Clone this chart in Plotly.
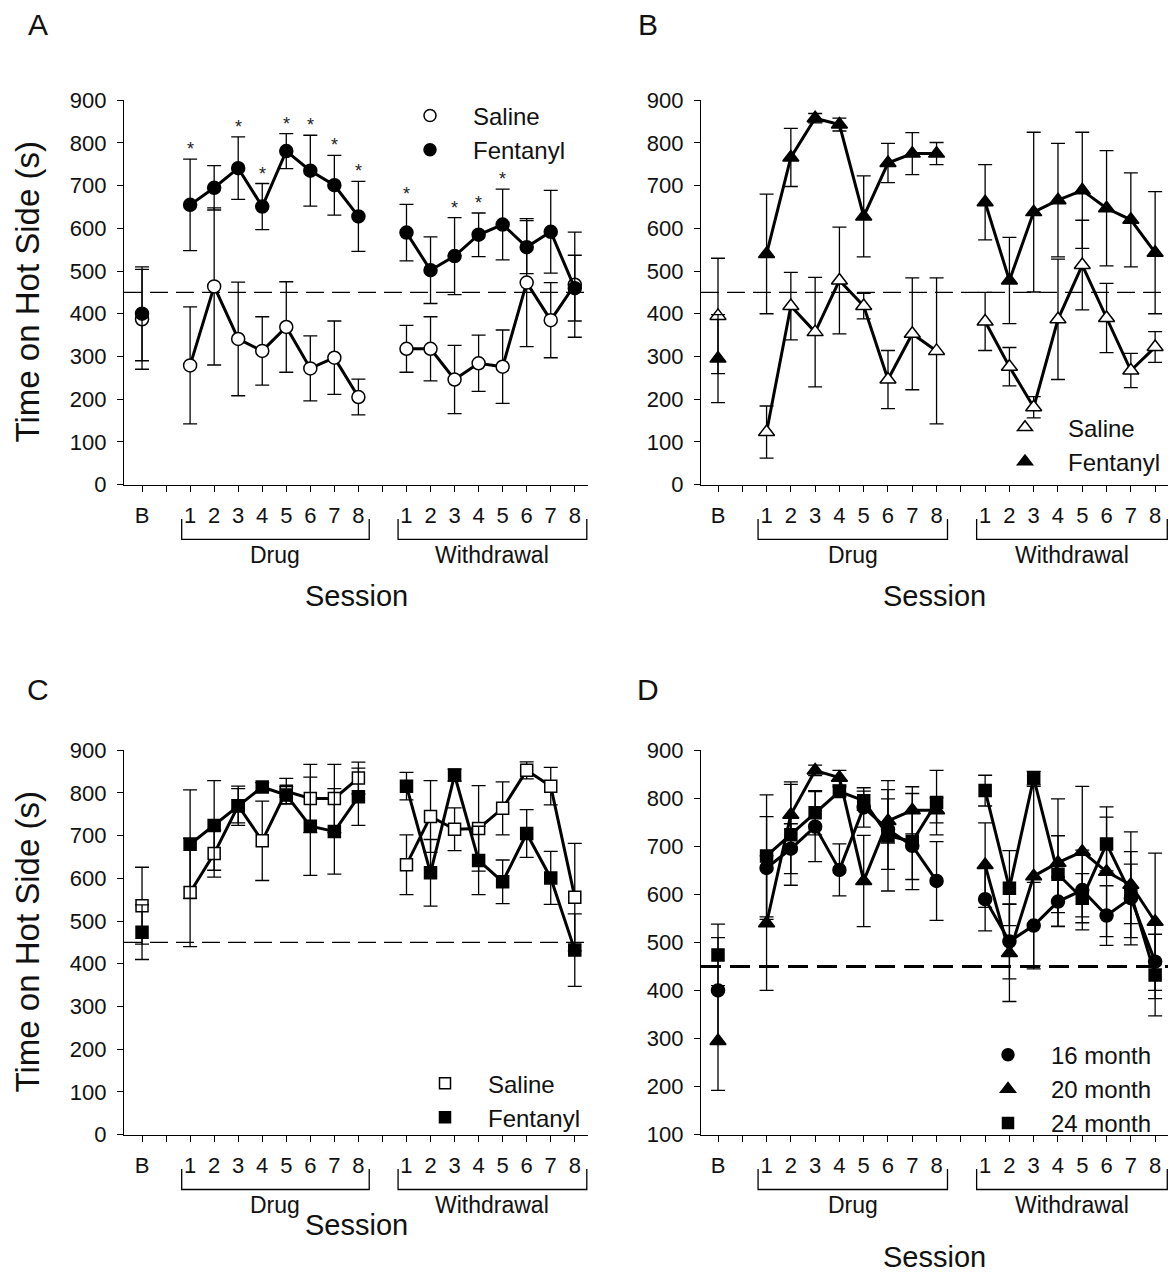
import plotly.graph_objects as go

W, H = 1173, 1277
FONT = "Liberation Sans, Arial, sans-serif"

# ---------------- data ----------------
# sessions: B, Drug 1-8, Withdrawal 1-8
session_pos = [0, 2, 3, 4, 5, 6, 7, 8, 9, 11, 12, 13, 14, 15, 16, 17, 18]
tick_vals = list(range(0, 19))
tick_text = ["B", "", "1", "2", "3", "4", "5", "6", "7", "8",
             "", "1", "2", "3", "4", "5", "6", "7", "8"]

# Panel A (16 month) - circles
a_sal_mean = [387, 279, 464, 341, 313, 369, 272, 297, 205, 318, 318, 246, 284, 276, 473, 385, 468]
a_sal_sem = [117, 137, 184, 133, 80, 106, 76, 86, 42, 55, 75, 80, 66, 86, 150, 88, 123]
a_fen_mean = [400, 655, 695, 741, 651, 781, 735, 701, 628, 590, 502, 535, 585, 609, 556, 592, 460]
a_fen_sem = [110, 107, 52, 73, 54, 41, 83, 70, 82, 66, 78, 90, 51, 83, 62, 97, 77]
a_stars = [0, 1, 0, 1, 1, 1, 1, 1, 1, 1, 0, 1, 1, 1, 0, 0, 0]

# Panel B (20 month) - triangles
b_sal_mean = [395, 123, 418, 357, 478, 418, 246, 353, 313, 382, 276, 181, 387, 514, 390, 267, 322]
b_sal_sem = [135, 61, 79, 128, 125, 30, 68, 131, 171, 68, 45, 25, 141, 105, 81, 40, 36]
b_fen_mean = [295, 540, 766, 858, 843, 628, 753, 775, 775, 661, 478, 638, 666, 689, 647, 620, 543]
b_fen_sem = [103, 140, 68, 11, 15, 95, 46, 49, 26, 88, 101, 187, 133, 136, 135, 110, 143]

# Panel C (24 month) - squares
c_sal_mean = [536, 567, 658, 770, 688, 804, 787, 787, 835, 632, 745, 715, 717, 764, 853, 816, 556]
c_sal_sem = [90, 127, 55, 40, 93, 30, 80, 80, 37, 70, 84, 50, 100, 62, 20, 44, 126]
c_fen_mean = [474, 680, 724, 770, 814, 795, 722, 710, 791, 816, 613, 842, 642, 592, 705, 601, 432]
c_fen_sem = [64, 127, 105, 46, 10, 20, 115, 100, 67, 32, 78, 14, 80, 51, 56, 62, 85]

baseline_level = 450
y_ticks_abc = [0, 100, 200, 300, 400, 500, 600, 700, 800, 900]
y_ticks_d = [100, 200, 300, 400, 500, 600, 700, 800, 900]

# ---------------- helpers ----------------
def full(vals):
    """Map the 17 session values onto the 19 axis slots, leaving gaps."""
    out = [None] * len(tick_vals)
    for p, v in zip(session_pos, vals):
        out[p] = v
    return out

def px_x(p):
    return p / W

def px_y(p):
    return 1 - p / H

# pixel geometry of the panels
panels = {
    "A": dict(x0=124, x1=588, y0=90, y1=482, xr=[-0.75, 18.55], letter=(38, 13), sess=-111, leg=83),
    "B": dict(x0=701, x1=1168, y0=90, y1=482, xr=[-0.70, 18.53], letter=(648, 13), sess=-111, leg=401),
    "C": dict(x0=124, x1=588, y0=753, y1=1145, xr=[-0.75, 18.55], letter=(38, 691), sess=-90, leg=1070),
    "D": dict(x0=701, x1=1168, y0=753, y1=1145, xr=[-0.70, 18.53], letter=(648, 691), sess=-122, leg=1041),
}
legend_x = {"A": 387, "B": 982, "C": 402, "D": 965}
axis_ids = {"A": "", "B": "2", "C": "3", "D": "4"}

fig = go.Figure()

def add_series(panel, mean, sem, symbol, filled, size, legend_name, legend_id):
    aid = axis_ids[panel]
    fill = "black" if filled else "white"
    fig.add_trace(go.Scatter(
        x=tick_vals, y=full(mean),
        error_y=dict(type="data", array=full(sem), visible=True,
                     color="black", thickness=1.3, width=7),
        mode="lines+markers", connectgaps=False,
        line=dict(color="black", width=3),
        marker=dict(symbol=symbol, size=size, color=fill,
                    line=dict(color="black", width=1.5)),
        xaxis="x" + aid, yaxis="y" + aid, showlegend=False, cliponaxis=False,
    ))
    fig.add_trace(go.Scatter(
        x=[None], y=[None], mode="markers", name=legend_name,
        marker=dict(symbol=symbol, size=size - 1, color=fill,
                    line=dict(color="black", width=1.5)),
        xaxis="x" + aid, yaxis="y" + aid, showlegend=True, legend=legend_id,
    ))

add_series("A", a_sal_mean, a_sal_sem, "circle", False, 13, "Saline", "legend")
add_series("A", a_fen_mean, a_fen_sem, "circle", True, 13, "Fentanyl", "legend")
add_series("B", b_sal_mean, b_sal_sem, "triangle-up", False, 14, "Saline", "legend2")
add_series("B", b_fen_mean, b_fen_sem, "triangle-up", True, 14, "Fentanyl", "legend2")
add_series("C", c_sal_mean, c_sal_sem, "square", False, 12, "Saline", "legend3")
add_series("C", c_fen_mean, c_fen_sem, "square", True, 12, "Fentanyl", "legend3")
add_series("D", a_fen_mean, a_fen_sem, "circle", True, 13, "16 month", "legend4")
add_series("D", b_fen_mean, b_fen_sem, "triangle-up", True, 14, "20 month", "legend4")
add_series("D", c_fen_mean, c_fen_sem, "square", True, 12, "24 month", "legend4")

annotations = []
shapes = []

# significance stars (panel A)
for p, m, s, st in zip(session_pos, a_fen_mean, a_fen_sem, a_stars):
    if st:
        annotations.append(dict(x=p, y=m + s, xref="x", yref="y", text="*",
                                showarrow=False, yshift=10, xanchor="center",
                                yanchor="middle",
                                font=dict(family=FONT, size=18, color="#222")))

layout_axes = {}
for name, g in panels.items():
    aid = axis_ids[name]
    yr = [100, 900] if name == "D" else [0, 900]
    yt = y_ticks_d if name == "D" else y_ticks_abc
    layout_axes["xaxis" + aid] = dict(
        domain=[px_x(g["x0"]), px_x(g["x1"])], range=g["xr"],
        anchor="y" + aid, tickvals=tick_vals, ticktext=tick_text,
        ticks="outside", ticklen=6, tickwidth=1.3, tickcolor="black",
        showline=True, linecolor="black", linewidth=1.3,
        showgrid=False, zeroline=False, ticklabelstandoff=5,
        tickfont=dict(family=FONT, size=22, color="#111"), fixedrange=True,
    )
    layout_axes["yaxis" + aid] = dict(
        domain=[px_y(g["y1"]), px_y(g["y0"])], range=yr,
        anchor="x" + aid, tickvals=yt,
        ticks="outside", ticklen=6, tickwidth=1.3, tickcolor="black",
        showline=True, linecolor="black", linewidth=1.3,
        showgrid=False, zeroline=False, ticklabelstandoff=6,
        tickfont=dict(family=FONT, size=22, color="#111"), fixedrange=True,
    )
    xref = "x" + aid
    ydom = "y" + aid + " domain"
    ph = g["y1"] - g["y0"]
    # dashed reference line
    shapes.append(dict(type="line", xref=xref + " domain", yref="y" + aid,
                       x0=0, x1=1, y0=baseline_level, y1=baseline_level, layer="below",
                       line=dict(color="black", width=3 if name == "D" else 1.3,
                                 dash="20px,9px" if name == "D" else "18px,8px")))
    # brackets
    for (l, r, label) in [(1.65, 9.45, "Drug"), (10.65, 18.5, "Withdrawal")]:
        top = -35 / ph
        bot = -56 / ph
        shapes.append(dict(type="path", xref=xref, yref=ydom,
                           path=f"M {l},{top} L {l},{bot} L {r},{bot} L {r},{top}",
                           line=dict(color="black", width=1.3)))
        annotations.append(dict(x=(l + r) / 2, y=0, xref=xref, yref=ydom,
                                yshift=-70, text=label, showarrow=False,
                                xanchor="center", yanchor="middle",
                                font=dict(family=FONT, size=23, color="#111")))
    # Session title
    annotations.append(dict(x=(g["x0"] + g["x1"]) / 2 / W, y=px_y(g["y1"]),
                            xref="paper", yref="paper", yshift=g["sess"],
                            text="Session", showarrow=False,
                            xanchor="center", yanchor="middle",
                            font=dict(family=FONT, size=29, color="#111")))
    # panel letter
    annotations.append(dict(x=px_x(g["letter"][0]), y=px_y(g["letter"][1]),
                            xref="paper", yref="paper", text=name,
                            showarrow=False, xanchor="center", yanchor="middle",
                            font=dict(family=FONT, size=30, color="#111")))
    fig.update_layout({("legend" if name == "A" else "legend" + aid): dict(
        x=px_x(legend_x[name]), y=px_y(g["leg"]),
        font=dict(family=FONT, size=24, color="#111"),
        bgcolor="rgba(0,0,0,0)", borderwidth=0, itemwidth=76,
        xanchor="left", yanchor="top", tracegroupgap=0)})

# y titles (left panels), centred on the axis
for name in ["A", "C"]:
    g = panels[name]
    annotations.append(dict(x=px_x(27), y=px_y((g["y0"] + g["y1"]) / 2),
                            xref="paper", yref="paper", text="Time on Hot Side (s)",
                            textangle=-90, showarrow=False,
                            xanchor="center", yanchor="middle",
                            font=dict(family=FONT, size=33, color="#111")))

fig.update_layout(
    width=W, height=H, margin=dict(l=0, r=0, t=0, b=0),
    paper_bgcolor="white", plot_bgcolor="white",
    shapes=shapes, annotations=annotations,
    **layout_axes,
)

fig.write_html("out.html", config={"displayModeBar": False},
               post_script="document.body.style.margin='0';")
